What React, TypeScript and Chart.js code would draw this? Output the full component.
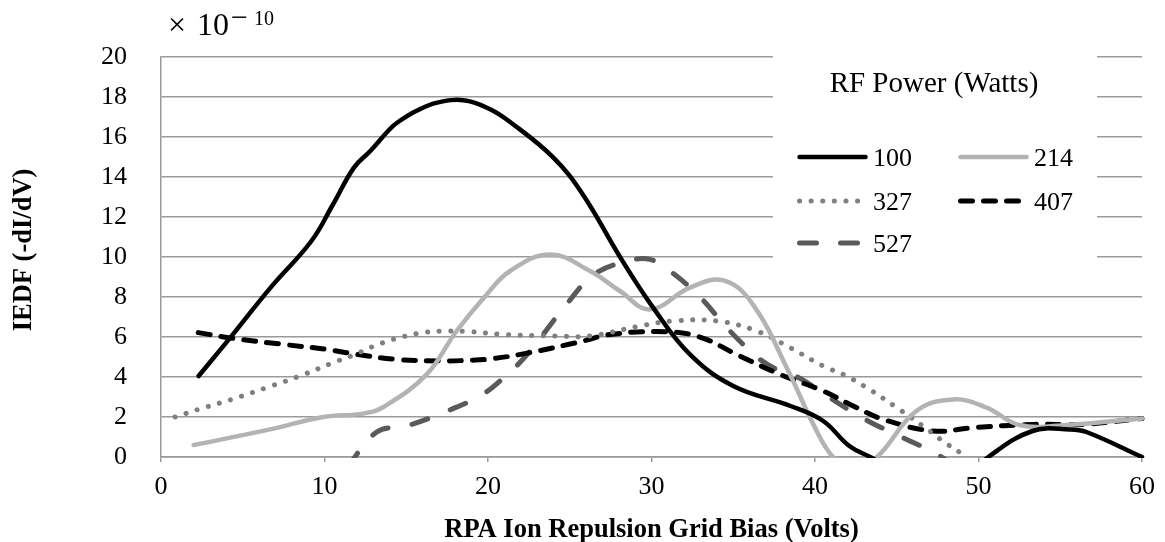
import React, { useEffect, useRef } from 'react';
import { Chart, registerables } from 'chart.js';

Chart.register(...registerables);

// ---- Data (RPA grid bias in volts, IEDF in units of 1e-10) ----
const xTickValues = [0, 10, 20, 30, 40, 50, 60];
const yTickValues = [0, 2, 4, 6, 8, 10, 12, 14, 16, 18, 20];
const seriesNames = ['100', '214', '327', '407', '527'];
const legendTitle = 'RF Power (Watts)';
const xTitle = 'RPA Ion Repulsion Grid Bias (Volts)';
const yTitle = 'IEDF (-dI/dV)';

const bias100 = [2.3, 4.4, 6.7, 9.2, 10.5, 11.8, 12.8, 14.0, 14.5, 15.6, 16.9, 18.6, 20.1, 21.35, 24.0, 25.8, 28.1, 30.1, 32.35, 35.0, 38.5, 40.5, 42.1, 43.6, 46.0, 49.0, 50.6, 53.3, 55.6, 56.6, 60.0];
const iedf100 = [4.05, 6.13, 8.47, 10.8, 12.6, 14.47, 15.3, 16.4, 16.75, 17.3, 17.72, 17.83, 17.4, 16.75, 14.97, 13.13, 9.97, 7.47, 5.13, 3.55, 2.55, 1.8, 0.55, -0.1, -1.3, -1.2, 0.0, 1.3, 1.38, 1.25, 0.0];

const bias214 = [2.0, 6.67, 9.93, 12.37, 13.6, 16.25, 18.08, 19.92, 21.35, 23.8, 26.24, 28.07, 29.9, 32.35, 34.4, 36.2, 38.47, 39.9, 41.1, 42.4, 43.8, 46.2, 48.46, 50.5, 52.5, 55.4, 60.0];
const iedf214 = [0.6, 1.38, 2.0, 2.17, 2.5, 4.13, 6.3, 8.13, 9.3, 10.13, 9.3, 8.3, 7.38, 8.47, 8.83, 7.63, 4.13, 1.63, 0.0, -0.6, 0.0, 2.3, 2.88, 2.47, 1.6, 1.6, 1.93];

const bias327 = [0.86, 2.28, 4.32, 6.46, 8.5, 10.54, 11.87, 13.19, 14.6, 16.05, 17.47, 18.9, 20.94, 24.2, 26.24, 29.3, 31.33, 34.0, 36.43, 38.47, 40.5, 41.8, 43.16, 45.0, 46.73, 47.95, 49.2];
const iedf327 = [2.0, 2.38, 2.88, 3.47, 4.05, 4.72, 5.13, 5.6, 5.97, 6.22, 6.3, 6.27, 6.13, 6.05, 6.05, 6.55, 6.8, 6.8, 6.3, 5.47, 4.55, 4.1, 3.47, 2.47, 1.47, 0.72, 0.05];

const bias407 = [2.28, 4.42, 7.48, 10.13, 11.97, 14.4, 17.06, 18.7, 20.12, 22.57, 25.83, 27.26, 30.3, 32.76, 35.4, 37.86, 40.5, 42.14, 44.18, 47.24, 49.69, 53.36, 56.4, 60.0];
const iedf407 = [6.22, 5.93, 5.63, 5.38, 5.13, 4.88, 4.8, 4.83, 4.9, 5.22, 5.8, 6.1, 6.27, 6.05, 5.05, 4.13, 3.3, 2.63, 1.88, 1.3, 1.47, 1.63, 1.63, 1.93];

const bias527 = [11.4, 13.2, 15.0, 17.27, 19.6, 21.0, 22.4, 24.8, 26.5, 28.57, 29.9, 31.13, 33.0, 34.6, 36.5, 37.65, 38.8, 40.0, 40.9, 43.06, 45.3, 47.64, 49.0];
const iedf527 = [-0.5, 1.25, 1.55, 2.22, 3.1, 4.0, 5.13, 7.63, 9.13, 9.8, 9.88, 9.3, 7.97, 6.47, 4.97, 4.38, 4.05, 3.47, 2.97, 1.88, 1.0, 0.05, -0.8];

const biasSeries = [bias100, bias214, bias327, bias407, bias527];
const iedfSeries = [iedf100, iedf214, iedf327, iedf407, iedf527];

const lineStyles = [
  { borderColor: '#000000', borderWidth: 4.5, borderDash: [] as number[] },
  { borderColor: '#b3b3b3', borderWidth: 4.5, borderDash: [] as number[] },
  { borderColor: '#808080', borderWidth: 5, borderDash: [0.1, 11.5] },
  { borderColor: '#000000', borderWidth: 5, borderDash: [12, 11] },
  { borderColor: '#5a5a5a', borderWidth: 5, borderDash: [17, 24] },
];

const SERIF = "'Liberation Serif', 'Times New Roman', serif";
const GRID = '#9a9a9a';

const overlayPlugin = {
  id: 'overlay',
  beforeDatasetsDraw(chart: any) {
    const ctx = chart.ctx;
    ctx.save();
    ctx.fillStyle = '#ffffff';
    ctx.fillRect(773, 40, 324, 232);
    ctx.restore();
  },
  afterDraw(chart: any) {
    const ctx = chart.ctx;
    const area = chart.chartArea;
    ctx.save();
    ctx.fillStyle = '#000';
    // multiplier
    ctx.textBaseline = 'alphabetic';
    ctx.textAlign = 'left';
    ctx.font = `32px ${SERIF}`;
    ctx.fillText('\u00d7', 168, 35);
    ctx.fillText('10', 197, 35);
    ctx.font = `30px ${SERIF}`;
    ctx.fillText('\u2212', 231, 27);
    ctx.font = `20px ${SERIF}`;
    ctx.fillText('10', 254, 25);

    // axis titles
    ctx.font = `bold 26.5px ${SERIF}`;
    ctx.textAlign = 'center';
    ctx.fillText(xTitle, (area.left + area.right) / 2, 537);
    ctx.save();
    ctx.translate(31, 250);
    ctx.rotate(-Math.PI / 2);
    ctx.fillText(yTitle, 0, 0);
    ctx.restore();

    // legend
    ctx.font = `29px ${SERIF}`;
    ctx.textAlign = 'center';
    ctx.fillText(legendTitle, 934, 92);
    const pos = [
      [797, 157], [958, 157], [797, 201], [958, 201], [797, 243],
    ];
    chart.data.datasets.forEach((ds: any, i: number) => {
      const [x, y] = pos[i];
      ctx.save();
      ctx.strokeStyle = ds.borderColor;
      ctx.lineWidth = ds.borderWidth;
      ctx.lineCap = 'round';
      ctx.setLineDash(ds.borderDash || []);
      ctx.beginPath();
      ctx.moveTo(x + 2.5, y);
      ctx.lineTo(x + 68.5, y);
      ctx.stroke();
      ctx.restore();
      ctx.font = `26px ${SERIF}`;
      ctx.textAlign = 'left';
      ctx.fillStyle = '#000';
      ctx.fillText(ds.label, x + 76, y + 9);
    });
    ctx.restore();
  },
};

export default function App() {
  const canvasRef = useRef<HTMLCanvasElement | null>(null);

  useEffect(() => {
    const canvas = canvasRef.current;
    if (!canvas) return;
    const datasets = seriesNames.map((name, i) => ({
      label: name,
      data: biasSeries[i].map((x, j) => ({ x, y: iedfSeries[i][j] })),
      borderColor: lineStyles[i].borderColor,
      borderWidth: lineStyles[i].borderWidth,
      borderDash: lineStyles[i].borderDash,
      borderCapStyle: 'round' as const,
      borderJoinStyle: 'round' as const,
      pointRadius: 0,
      pointHoverRadius: 0,
      tension: 0.4,
      fill: false,
      clip: { left: 5, right: 5, top: 5, bottom: 1 },
    }));

    const chart = new Chart(canvas, {
      type: 'line',
      data: { datasets },
      plugins: [overlayPlugin],
      options: {
        animation: false,
        responsive: false,
        devicePixelRatio: 1,
        layout: { padding: { top: 57, right: 23, bottom: 0, left: 0 } },
        plugins: {
          legend: { display: false },
          tooltip: { enabled: false },
          title: { display: false },
        },
        events: [],
        scales: {
          x: {
            type: 'linear',
            min: 0,
            max: 60,
            afterBuildTicks: (s: any) => {
              s.ticks = xTickValues.map((v) => ({ value: v }));
            },
            afterFit: (s: any) => {
              s.height = 85;
            },
            grid: {
              drawOnChartArea: false,
              drawTicks: true,
              tickLength: 5,
              color: GRID,
              lineWidth: 1.5,
            },
            border: { display: true, color: GRID, width: 1.5 },
            ticks: {
              color: '#000',
              font: { family: SERIF, size: 26 },
              padding: 10,
              maxRotation: 0,
              autoSkip: false,
            },
          },
          y: {
            type: 'linear',
            min: 0,
            max: 20,
            afterBuildTicks: (s: any) => {
              s.ticks = yTickValues.map((v) => ({ value: v }));
            },
            afterFit: (s: any) => {
              s.width = 161;
            },
            grid: {
              drawTicks: false,
              color: GRID,
              lineWidth: 1.5,
            },
            border: { display: true, color: GRID, width: 1.5 },
            ticks: {
              color: '#000',
              font: { family: SERIF, size: 26 },
              padding: 34,
              autoSkip: false,
            },
          },
        },
      },
    });
    return () => chart.destroy();
  }, []);

  return (
    <div style={{ position: 'absolute', left: 0, top: 0, width: 1165, height: 542, background: '#fff' }}>
      <canvas ref={canvasRef} width={1165} height={542} style={{ display: 'block' }} />
    </div>
  );
}
